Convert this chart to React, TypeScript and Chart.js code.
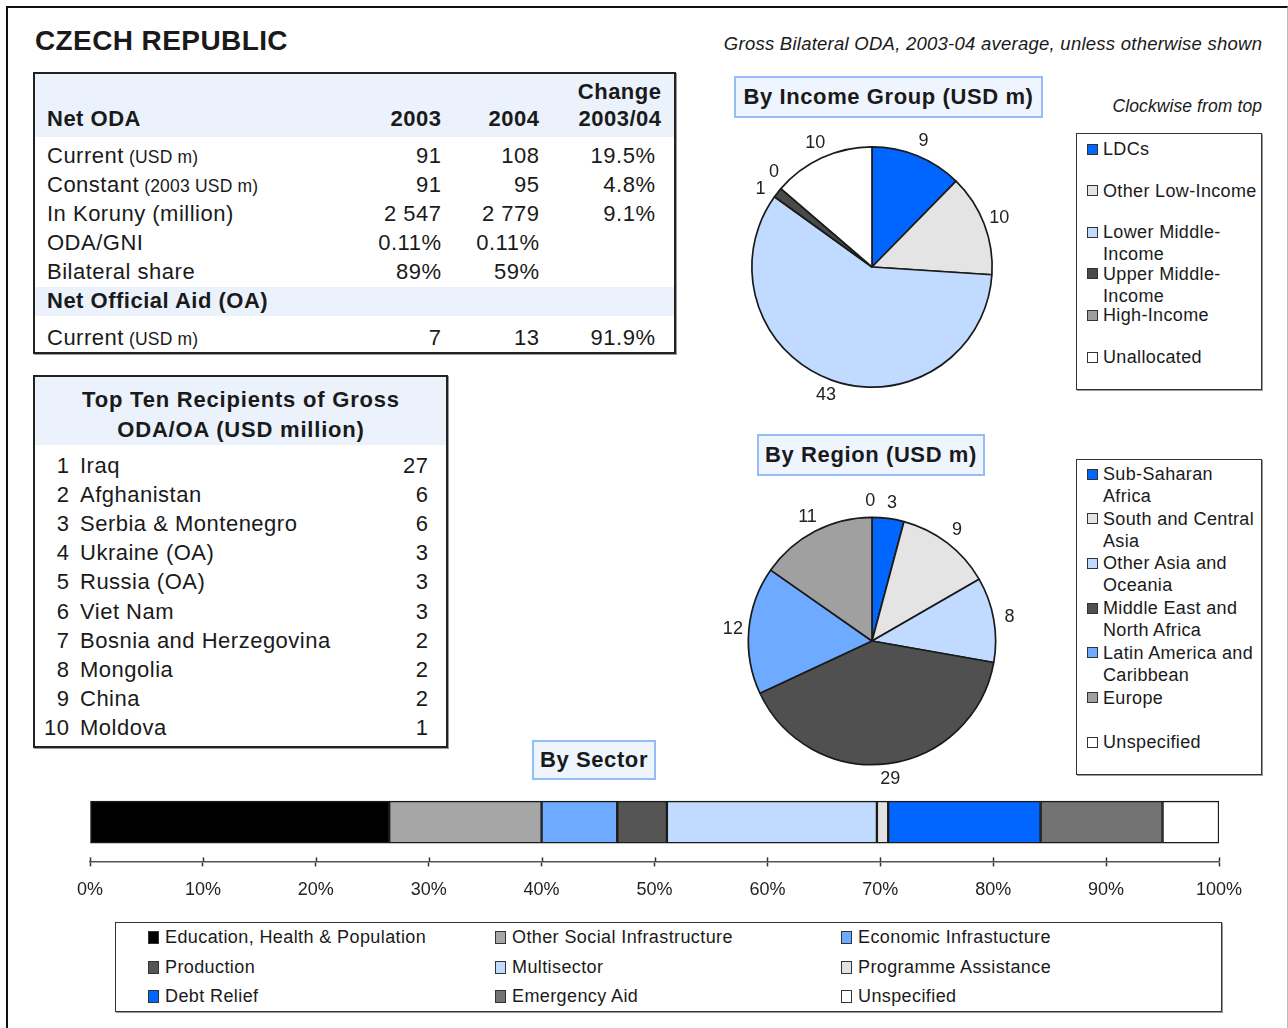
import React, { useEffect, useRef } from 'react';
import { Chart, registerables } from 'chart.js';

Chart.register(...registerables);

const FONT = "'Liberation Sans', Arial, Helvetica, sans-serif";
Chart.defaults.font.family = FONT;

// ---------- Net ODA table ----------
const odaYears = ['2003', '2004'];
const odaRowLabels = ['Current', 'Constant', 'In Koruny (million)', 'ODA/GNI', 'Bilateral share'];
const odaRowUnits = ['(USD m)', '(2003 USD m)', '', '', ''];
const oda2003 = ['91', '91', '2 547', '0.11%', '89%'];
const oda2004 = ['108', '95', '2 779', '0.11%', '59%'];
const odaChange = ['19.5%', '4.8%', '9.1%', '', ''];
const oaLabels = ['Current'];
const oaUnits = ['(USD m)'];
const oa2003 = ['7'];
const oa2004 = ['13'];
const oaChange = ['91.9%'];

// ---------- Top ten recipients ----------
const topRecipients = [
  'Iraq', 'Afghanistan', 'Serbia & Montenegro', 'Ukraine (OA)', 'Russia (OA)',
  'Viet Nam', 'Bosnia and Herzegovina', 'Mongolia', 'China', 'Moldova',
];
const topValues = [27, 6, 6, 3, 3, 3, 2, 2, 2, 1];

// ---------- By income group ----------
const incomeGroups = ['LDCs', 'Other Low-Income', 'Lower Middle-\nIncome', 'Upper Middle-\nIncome', 'High-Income', 'Unallocated'];
const incomeValues = [9, 10, 43, 1, 0, 10];
const incomeColors = ['#0066ff', '#e4e4e4', '#c0dbff', '#4a4a4a', '#9e9e9e', '#ffffff'];

// ---------- By region ----------
const regions = [
  'Sub-Saharan\nAfrica', 'South and Central\nAsia', 'Other Asia and\nOceania',
  'Middle East and\nNorth Africa', 'Latin America and\nCaribbean', 'Europe', 'Unspecified',
];
const regionValues = [3, 9, 8, 29, 12, 11, 0];
const regionColors = ['#0066ff', '#e4e4e4', '#c0dbff', '#505050', '#6eaaff', '#a0a0a0', '#ffffff'];

// ---------- By sector ----------
const sectors = [
  'Education, Health & Population', 'Other Social Infrastructure', 'Economic Infrastucture',
  'Production', 'Multisector', 'Programme Assistance',
  'Debt Relief', 'Emergency Aid', 'Unspecified',
];
const sectorShares = [26.5, 13.5, 6.7, 4.4, 18.6, 1.0, 13.5, 10.8, 5.0];
const sectorColors = ['#000000', '#a6a6a6', '#6eaaff', '#555555', '#c0dbff', '#e2e2e2', '#0066ff', '#737373', '#ffffff'];
const sectorAxisMax = 100;
const sectorAxisStep = 10;

// ---------- helpers ----------
type TP = {
  x: number; y: number; size?: number; bold?: boolean; italic?: boolean;
  align?: 'left' | 'right' | 'center'; ls?: number; children: React.ReactNode;
};
function T({ x, y, size = 22, bold, italic, align = 'left', ls = 0.5, children }: TP) {
  const lh = Math.round(size * 1.25);
  const style: React.CSSProperties = {
    position: 'absolute', top: y - lh / 2, height: lh, lineHeight: lh + 'px',
    fontSize: size, fontWeight: bold ? 700 : 400, fontStyle: italic ? 'italic' : 'normal',
    letterSpacing: ls, whiteSpace: 'nowrap', color: '#1a1a1a',
  };
  if (align === 'left') style.left = x;
  else if (align === 'right') style.right = 1288 - x - ls;
  else { style.left = x - 400; style.width = 800; style.textAlign = 'center'; }
  return <div style={style}>{children}</div>;
}

function Box({ l, t, w, h, border = '2px solid #222', bg, shadow = true }: { l: number; t: number; w: number; h: number; border?: string; bg?: string; shadow?: boolean }) {
  return (
    <div style={{
      position: 'absolute', left: l, top: t, width: w, height: h, boxSizing: 'border-box',
      border, background: bg, boxShadow: shadow ? '1px 1px 0 #9a9a9a' : undefined,
    }} />
  );
}

function TitleBox({ l, t, w, h, text }: { l: number; t: number; w: number; h: number; text: string }) {
  return (
    <div style={{
      position: 'absolute', left: l, top: t, width: w, height: h, boxSizing: 'border-box',
      border: '2px solid #96bcf6', background: '#eef5ff', textAlign: 'center',
      lineHeight: (h - 4) + 'px', fontSize: 22, fontWeight: 700, letterSpacing: 0.6, color: '#1a1a1a',
      whiteSpace: 'nowrap',
    }}>{text}</div>
  );
}

const outsideLabels = {
  id: 'outsideLabels',
  afterDatasetsDraw(chart: any) {
    const meta = chart.getDatasetMeta(0);
    const vals = chart.data.datasets[0].data as number[];
    const ctx = chart.ctx as CanvasRenderingContext2D;
    const items = meta.data.map((arc: any, i: number) => {
      const p = arc.getProps(['x', 'y', 'startAngle', 'endAngle', 'outerRadius'], true);
      return { i, mid: (p.startAngle + p.endAngle) / 2, p };
    });
    const minSep = (9 * Math.PI) / 180;
    for (let k = 1; k < items.length; k++) {
      const d = items[k].mid - items[k - 1].mid;
      if (d < minSep) {
        const s = (minSep - d) / 2;
        items[k - 1].mid -= s;
        items[k].mid += s;
      }
    }
    const last = items[items.length - 1];
    const first = items[0];
    const dw = first.mid + Math.PI * 2 - last.mid;
    if (dw < minSep) {
      const s = (minSep - dw) / 2;
      last.mid -= s;
      first.mid += s;
    }
    ctx.save();
    ctx.font = `18px ${FONT}`;
    ctx.fillStyle = '#222';
    ctx.textAlign = 'center';
    ctx.textBaseline = 'middle';
    items.forEach((it: any) => {
      const r = it.p.outerRadius + 16;
      const x = it.p.x + r * Math.cos(it.mid);
      const y = it.p.y + r * Math.sin(it.mid);
      ctx.fillText(String(vals[it.i]), x, y);
    });
    ctx.restore();
  },
};

function PieCanvas({ left, top, size, pad, labels, values, colors }: {
  left: number; top: number; size: number; pad: number; labels: string[]; values: number[]; colors: string[];
}) {
  const ref = useRef<HTMLCanvasElement>(null);
  useEffect(() => {
    const chart = new Chart(ref.current!, {
      type: 'pie',
      data: {
        labels: labels.map((s) => s.replace('\n', ' ')),
        datasets: [{ data: values, backgroundColor: colors, borderColor: '#1a1a1a', borderWidth: 1.7 }],
      },
      options: {
        responsive: false, animation: false, devicePixelRatio: 1, events: [],
        layout: { padding: pad },
        plugins: { legend: { display: false }, tooltip: { enabled: false } },
      },
      plugins: [outsideLabels],
    } as any);
    return () => chart.destroy();
  }, []);
  return <canvas ref={ref} width={size} height={size} style={{ position: 'absolute', left, top, width: size, height: size }} />;
}

const ticksAbove = {
  id: 'ticksAbove',
  afterDraw(chart: any) {
    const sc = chart.scales.x;
    const ctx = chart.ctx as CanvasRenderingContext2D;
    ctx.save();
    ctx.strokeStyle = '#333';
    ctx.lineWidth = 1.5;
    sc.ticks.forEach((t: any) => {
      const x = Math.round(sc.getPixelForValue(t.value)) + 0.5;
      ctx.beginPath();
      ctx.moveTo(x, sc.top - 4);
      ctx.lineTo(x, sc.top);
      ctx.stroke();
    });
    ctx.restore();
  },
};

function SectorBar() {
  const ref = useRef<HTMLCanvasElement>(null);
  useEffect(() => {
    const chart = new Chart(ref.current!, {
      type: 'bar',
      data: {
        labels: [''],
        datasets: sectors.map((name, i) => ({
          label: name, data: [sectorShares[i]], backgroundColor: sectorColors[i],
          borderColor: '#1a1a1a', borderWidth: 1.5, borderSkipped: false, barThickness: 42,
        })),
      },
      options: {
        indexAxis: 'y', responsive: false, animation: false, devicePixelRatio: 1, events: [],
        layout: { padding: { left: 40, right: 40, top: 23, bottom: 0 } },
        scales: {
          x: {
            stacked: true, min: 0, max: sectorAxisMax,
            ticks: { stepSize: sectorAxisStep, callback: (v: any) => v + '%', font: { size: 18, family: FONT }, color: '#222', padding: 13, maxRotation: 0 },
            grid: { drawOnChartArea: false, drawTicks: true, tickLength: 5, color: '#333', tickWidth: 1.5 },
            border: { display: true, color: '#555', width: 1.5 },
          },
          y: { stacked: true, display: false },
        },
        plugins: { legend: { display: false }, tooltip: { enabled: false } },
      },
      plugins: [ticksAbove],
    } as any);
    return () => chart.destroy();
  }, []);
  return <canvas ref={ref} width={1209} height={154} style={{ position: 'absolute', left: 50, top: 760, width: 1209, height: 154 }} />;
}

function Swatch({ x, y, w, h, color }: { x: number; y: number; w: number; h: number; color: string }) {
  return <div style={{ position: 'absolute', left: x, top: y - h / 2, width: w, height: h, boxSizing: 'border-box', border: '1.5px solid #333', background: color }} />;
}

function PieLegend({ labels, colors, firstY, step }: { labels: string[]; colors: string[]; firstY: number; step: number }) {
  return (
    <>
      {labels.map((lab, i) => {
        const y = firstY + i * step;
        return (
          <React.Fragment key={i}>
            <Swatch x={1087} y={y} w={11} h={11} color={colors[i]} />
            <div style={{
              position: 'absolute', left: 1103, top: y - 11, lineHeight: '22px', fontSize: 18,
              whiteSpace: 'pre-line', color: '#1a1a1a', letterSpacing: 0.35,
            }}>{lab}</div>
          </React.Fragment>
        );
      })}
    </>
  );
}

export default function App() {
  const rowY = [156, 185, 214, 243, 272];
  const colSwX = [148, 495, 841];
  const rowLegY = [937, 967, 996];
  return (
    <div style={{ position: 'absolute', left: 0, top: 0, width: 1288, height: 1028, overflow: 'hidden', background: '#fff', fontFamily: FONT, color: '#1a1a1a' }}>
      {/* outer frame */}
      <div style={{ position: 'absolute', left: 6, top: 6, width: 1282, height: 1040, boxSizing: 'border-box', borderLeft: '2px solid #111', borderTop: '2px solid #111', borderRight: '1px solid #bbb' }} />

      <T x={35} y={40} size={28} bold ls={0.4}>CZECH REPUBLIC</T>
      <T x={1262} y={43} size={18.5} italic ls={0.25} align="right">Gross Bilateral ODA, 2003-04 average, unless otherwise shown</T>

      {/* Net ODA table */}
      <div style={{ position: 'absolute', left: 35, top: 74, width: 639, height: 63, background: '#ebf2fc' }} />
      <div style={{ position: 'absolute', left: 35, top: 287, width: 639, height: 29, background: '#ebf2fc' }} />
      <Box l={33} t={72} w={643} h={282} />
      <T x={661} y={92} bold align="right">Change</T>
      <T x={47} y={119} bold>Net ODA</T>
      <T x={441} y={119} bold align="right">{odaYears[0]}</T>
      <T x={539} y={119} bold align="right">{odaYears[1]}</T>
      <T x={661} y={119} bold align="right">2003/04</T>
      {odaRowLabels.map((lab, i) => (
        <React.Fragment key={i}>
          <T x={47} y={rowY[i]}>{lab}{odaRowUnits[i] ? <span style={{ fontSize: 17.5, letterSpacing: 0.2 }}> {odaRowUnits[i]}</span> : null}</T>
          <T x={441} y={rowY[i]} align="right">{oda2003[i]}</T>
          <T x={539} y={rowY[i]} align="right">{oda2004[i]}</T>
          <T x={655} y={rowY[i]} align="right">{odaChange[i]}</T>
        </React.Fragment>
      ))}
      <T x={47} y={301} bold>Net Official Aid (OA)</T>
      <T x={47} y={338}>{oaLabels[0]}<span style={{ fontSize: 17.5, letterSpacing: 0.2 }}> {oaUnits[0]}</span></T>
      <T x={441} y={338} align="right">{oa2003[0]}</T>
      <T x={539} y={338} align="right">{oa2004[0]}</T>
      <T x={655} y={338} align="right">{oaChange[0]}</T>

      {/* Top ten */}
      <div style={{ position: 'absolute', left: 35, top: 377, width: 411, height: 68, background: '#ebf2fc' }} />
      <Box l={33} t={375} w={415} h={373} />
      <T x={241} y={400} bold align="center" ls={0.8}>Top Ten Recipients of Gross</T>
      <T x={241} y={430} bold align="center" ls={0.8}>ODA/OA (USD million)</T>
      {topRecipients.map((name, i) => {
        const y = 466 + i * 29.1;
        return (
          <React.Fragment key={i}>
            <T x={69} y={y} align="right">{String(i + 1)}</T>
            <T x={80} y={y}>{name}</T>
            <T x={428} y={y} align="right">{String(topValues[i])}</T>
          </React.Fragment>
        );
      })}

      {/* Income pie */}
      <TitleBox l={734} t={76} w={309} h={42} text="By Income Group (USD m)" />
      <T x={1262} y={106} size={17.5} italic ls={0.1} align="right">Clockwise from top</T>
      <PieCanvas left={712} top={107} size={320} pad={39} labels={incomeGroups} values={incomeValues} colors={incomeColors} />
      <Box l={1076} t={133} w={186} h={257} border="1.5px solid #333" />
      <PieLegend labels={incomeGroups} colors={incomeColors} firstY={149} step={41.6} />

      {/* Region pie */}
      <TitleBox l={757} t={434} w={228} h={42} text="By Region (USD m)" />
      <PieCanvas left={712} top={481} size={320} pad={35.5} labels={regions} values={regionValues} colors={regionColors} />
      <Box l={1076} t={459} w={186} h={316} border="1.5px solid #333" />
      <PieLegend labels={regions} colors={regionColors} firstY={474} step={44.7} />

      {/* Sector */}
      <TitleBox l={532} t={740} w={124} h={40} text="By Sector" />
      <SectorBar />
      <Box l={115} t={922} w={1107} h={90} border="1.5px solid #333" />
      {sectors.map((s, i) => {
        const c = i % 3;
        const r = Math.floor(i / 3);
        return (
          <React.Fragment key={i}>
            <Swatch x={colSwX[c]} y={rowLegY[r]} w={11} h={13} color={sectorColors[i]} />
            <T x={colSwX[c] + 17} y={rowLegY[r]} size={18} ls={0.4}>{s}</T>
          </React.Fragment>
        );
      })}
    </div>
  );
}
